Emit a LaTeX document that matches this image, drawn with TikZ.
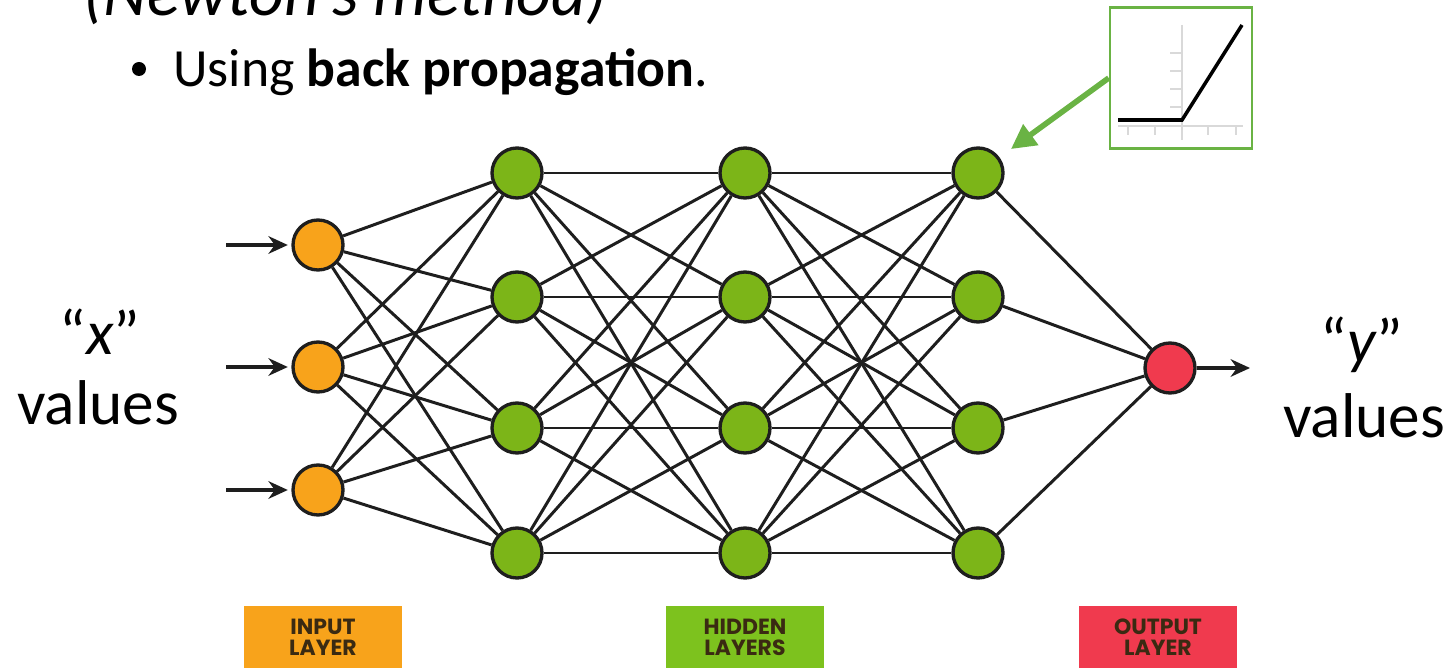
\documentclass[tikz,border=0pt]{standalone}
\usepackage{fontspec}
\setmainfont{Carlito}
\newfontfamily\legendfont{Poppins}
\usetikzlibrary{arrows.meta}
\definecolor{inorange}{HTML}{F8A31B}
\definecolor{hidgreen}{HTML}{7CB518}
\definecolor{outred}{HTML}{F03A4E}
\definecolor{edgegray}{HTML}{1E1E1E}
\definecolor{relugreen}{HTML}{6AB344}
\definecolor{boxgreen}{HTML}{7DC21E}
\definecolor{inktext}{HTML}{3A2A12}
\begin{document}
\begin{tikzpicture}[x=0.02cm, y=-0.02cm, >=Stealth,
    neuron/.style={circle, draw=edgegray, line width=1.9pt, minimum size=1.0cm, inner sep=0pt},
    link/.style={edgegray, line width=1.7pt},
    feed/.style={-{Stealth[length=11pt, width=10pt]}, edgegray, line width=2.6pt},
    lab/.style={font=\fontsize{36}{40}\selectfont, inner sep=0pt},
    layerbox/.style={minimum width=3.16cm, minimum height=1.24cm, inner sep=0pt, align=center,
      text=inktext, font=\legendfont\bfseries\fontsize{12.5}{12}\selectfont}]
  \useasboundingbox (0,0) rectangle (1452,668);
  % Dòng tiêu đề (bị cắt ở trên)
  \node[anchor=base west, inner sep=0pt, font=\fontsize{38.5}{40}\selectfont\itshape] (meth) at (83,16) {(Newton’s method)};
  \node[circle, fill=black, minimum size=0.28cm, inner sep=0pt] (dot) at (139,69) {};
  \node[anchor=base west, inner sep=0pt, font=\fontsize{30.6}{32}\selectfont] (bul) at (173,87) {Using \textbf{back propagation}.};
  % Lớp vào
  \foreach \i/\yy in {1/245, 2/367, 3/490} {
    \node[neuron, fill=inorange] (in\i) at (318,\yy) {};
    \coordinate (src\i) at (226,\yy);
    \draw[feed, shorten >=2pt] (src\i) -- (in\i);
  }
  % Các lớp ẩn
  \foreach \l/\xx in {1/517, 2/745, 3/978}
    \foreach \j/\yy in {1/173, 2/297, 3/428, 4/553}
      \node[neuron, fill=hidgreen] (h\l\j) at (\xx,\yy) {};
  % Lớp ra
  \node[neuron, fill=outred] (out) at (1170,368) {};
  \coordinate (yend) at (1250,368);
  \draw[feed] (out) -- (yend);
  % Các cạnh nối
  \foreach \i in {1,2,3}
    \foreach \j in {1,...,4}
      \draw[link] (in\i) -- (h1\j);
  \foreach \l/\m in {1/2, 2/3}
    \foreach \j in {1,...,4}
      \foreach \k in {1,...,4}
        \draw[link] (h\l\j) -- (h\m\k);
  \foreach \j in {1,...,4}
    \draw[link] (h3\j) -- (out);
  % Nhãn x, y
  \node[lab, anchor=base] (xq) at (100,355) {“\textit{x}”};
  \node[lab, anchor=base] (xv) at (98,424) {values};
  \node[lab, anchor=base] (yq) at (1362,362) {“\textit{y}”};
  \node[lab, anchor=base] (yv) at (1364,437) {values};
  % Hộp chú thích các lớp
  \node[layerbox, fill=inorange] (inbox) at (323,637) {INPUT\\LAYER};
  \node[layerbox, fill=boxgreen] (hidbox) at (745,637) {HIDDEN\\LAYERS};
  \node[layerbox, fill=outred] (outbox) at (1158,637) {OUTPUT\\LAYER};
  % Hình nhỏ hàm ReLU
  \node[draw=relugreen, line width=1.5pt, fill=white, minimum width=2.84cm, minimum height=2.82cm] (relu) at (1181,78) {};
  \draw[black!15, line width=1.3pt] (1182,25) -- (1182,140) (1118,126) -- (1243,126);
  \foreach \t in {1128,1155,1208,1236}
    \draw[black!15, line width=1.3pt] (\t,126) -- (\t,135);
  \foreach \t in {53,71,89,107}
    \draw[black!15, line width=1.3pt] (1170,\t) -- (1182,\t);
  \draw[black, line width=2pt] (1118,120) -- (1182,120) -- (1242,25);
  \draw[-{Triangle[length=14pt, width=14pt]}, relugreen, line width=3.2pt, shorten >=8pt] (relu.west) -- (h31);
\end{tikzpicture}
\end{document}
